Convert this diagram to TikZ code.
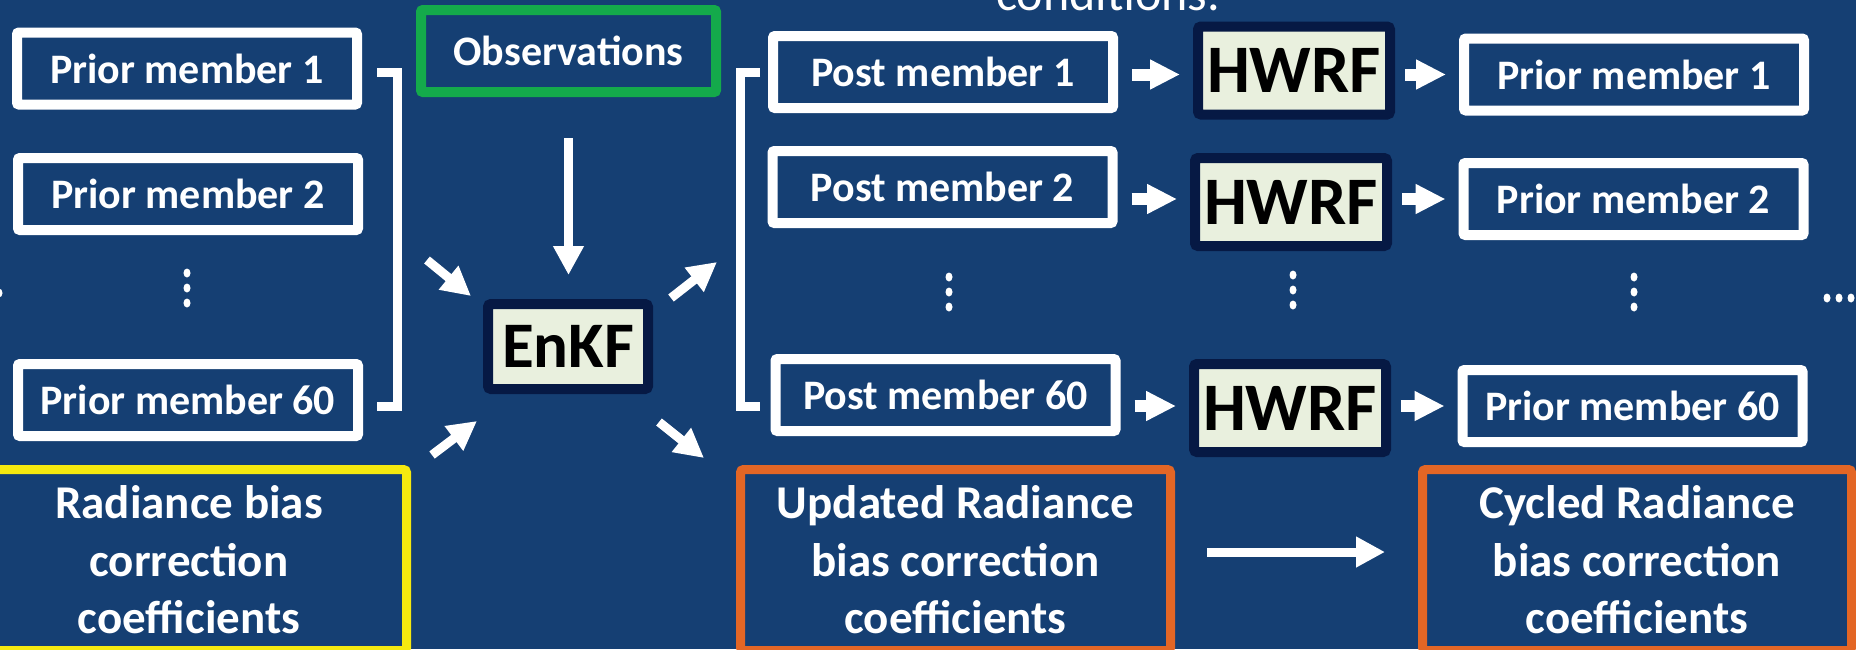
\documentclass[tikz,border=0pt]{standalone}
\usepackage{fontspec}
\setmainfont{Carlito}
\usepackage{tikz}
\usetikzlibrary{arrows.meta}
\definecolor{bgColor}{RGB}{21,63,115}
\definecolor{obsColor}{RGB}{20,170,75}
\definecolor{biasYellow}{RGB}{245,233,15}
\definecolor{biasOrange}{RGB}{227,102,37}
\definecolor{modelBorder}{RGB}{6,25,68}
\definecolor{modelFill}{RGB}{233,240,222}
\tikzstyle{pixelGrid} = [x = 1pt, y = -1pt]
\newcommand{\memberFont}{\bfseries\fontsize{42}{50}\selectfont}
\newcommand{\modelFont}{\bfseries\fontsize{68}{80}\selectfont}
\newcommand{\enkfFont}{\bfseries\fontsize{65}{78}\selectfont}
\newcommand{\biasFont}{\bfseries\fontsize{47}{57.5}\selectfont}
\newcommand{\noteFont}{\fontsize{50}{60}\selectfont}
\tikzstyle{memberStyle} = [draw=white, line width=10pt, rounded corners=2pt, inner sep=0pt, minimum width=340pt, minimum height=72pt, text=white, font=\memberFont]
\tikzstyle{obsStyle} = [memberStyle, draw=obsColor, minimum width=295pt, minimum height=82pt]
\tikzstyle{modelStyle} = [draw=modelBorder, fill=modelFill, line width=10pt, rounded corners=3pt, inner sep=0pt, minimum width=192pt, minimum height=88pt, text=black, font=\modelFont]
\tikzstyle{biasStyle} = [line width=9pt, rounded corners=3pt, inner sep=0pt, align=center, text=white, font=\biasFont, minimum height=181pt]
\tikzstyle{noteStyle} = [text=white, font=\noteFont, inner sep=0pt]
\tikzstyle{bracketStyle} = [draw=white, line width=9pt]
\tikzstyle{dotStyle} = [fill=white]
\tikzstyle{bigArrow} = [draw=white, line width=9pt, -{Triangle[length=29pt, width=29pt]}]
\tikzstyle{smallArrow} = [draw=white, line width=12pt, -{Triangle[length=30pt, width=28pt]}]
\newcommand{\memberBox}[4]{\node [memberStyle] (#1) at (#2, #3) {#4};}
\newcommand{\modelBox}[3]{\node [modelStyle] (#1) at (#2, #3) {HWRF};}
\newcommand{\vDots}[2]{
  \foreach \k in {0,1,2} {
    \fill [dotStyle] (#1, #2 + 15 * \k) ellipse (3.5pt and 4.5pt);
  }
}

\begin{document}
\begin{tikzpicture}[pixelGrid]
  \useasboundingbox (0, 0) rectangle (1856, 649);
  \clip (0, 0) rectangle (1856, 649);
  \fill [bgColor] (0, 0) rectangle (1856, 649);
  \node [noteStyle, anchor=base] (note) at (1108, 10) {conditions.};

  \memberBox{priorA}{187}{68.5}{Prior member 1}
  \memberBox{priorB}{188}{194}{Prior member 2}
  \memberBox{priorN}{188}{400}{Prior member 60}
  \vDots{187}{273}
  \fill [dotStyle] (-1, 293) ellipse (3.5pt and 4.5pt);

  \node [obsStyle] (obs) at (568.5, 51) {Observations};
  \node [modelStyle, font=\enkfFont, minimum width=160pt, minimum height=85pt] (enkf) at (568, 346.5) {EnKF};

  \memberBox{postA}{943}{72}{Post member 1}
  \memberBox{postB}{942.5}{187}{Post member 2}
  \memberBox{postN}{945.5}{395}{Post member 60}
  \modelBox{hwrfA}{1294}{70.5}
  \modelBox{hwrfB}{1291}{202}
  \modelBox{hwrfN}{1290}{408}
  \memberBox{nextA}{1634}{74.5}{Prior member 1}
  \memberBox{nextB}{1633.5}{199}{Prior member 2}
  \memberBox{nextN}{1632.5}{406}{Prior member 60}
  \vDots{949}{277}
  \vDots{1293}{275}
  \vDots{1634}{277}
  \foreach \k in {0,1,2} {
    \fill [dotStyle] (1827 + 12 * \k, 298) ellipse (3.5pt and 4.5pt);
  }

  \node [biasStyle, draw=biasYellow, minimum width=435pt] (biasOld) at (189, 560) {Radiance bias\\correction\\coefficients};
  \node [biasStyle, draw=biasOrange, minimum width=430pt] (biasNew) at (955.5, 560) {Updated Radiance\\bias correction\\coefficients};
  \node [biasStyle, draw=biasOrange, minimum width=429pt] (biasCycled) at (1637, 560) {Cycled Radiance\\bias correction\\coefficients};

  \draw [bracketStyle] (377, 72.5) -- (397.5, 72.5) -- (397.5, 406.5) -- (377, 406.5);
  \draw [bracketStyle] (760, 72.5) -- (740, 72.5) -- (740, 406) -- (760, 406);

  \coordinate (priorsOut) at (427, 260);
  \coordinate (enkfInTop) at (471, 296);
  \coordinate (biasOut) at (432, 455);
  \coordinate (enkfInBottom) at (477, 421);
  \coordinate (enkfOutTop) at (671, 298);
  \coordinate (postsIn) at (717, 262);
  \coordinate (enkfOutBottom) at (659, 422);
  \coordinate (biasNewIn) at (704, 458);
  \foreach \a/\b in {priorsOut/enkfInTop, biasOut/enkfInBottom, enkfOutTop/postsIn, enkfOutBottom/biasNewIn} {
    \draw [bigArrow] (\a) -- (\b);
  }
  \draw [bigArrow, shorten <=41pt, shorten >=24pt] (obs.south) -- (obs.south |- enkf.north);

  \foreach \row in {A,B,N} {
    \draw [smallArrow, shorten <=14pt, shorten >=13pt] (post\row.east |- next\row) -- (hwrf\row.west |- next\row);
    \draw [smallArrow, shorten <=10pt, shorten >=13pt] (hwrf\row.east |- next\row) -- (next\row.west);
  }
  \draw [bigArrow, shorten <=32pt, shorten >=33pt] ([yshift=8pt]biasNew.east) -- ([yshift=8pt]biasCycled.west);
\end{tikzpicture}
\end{document}
